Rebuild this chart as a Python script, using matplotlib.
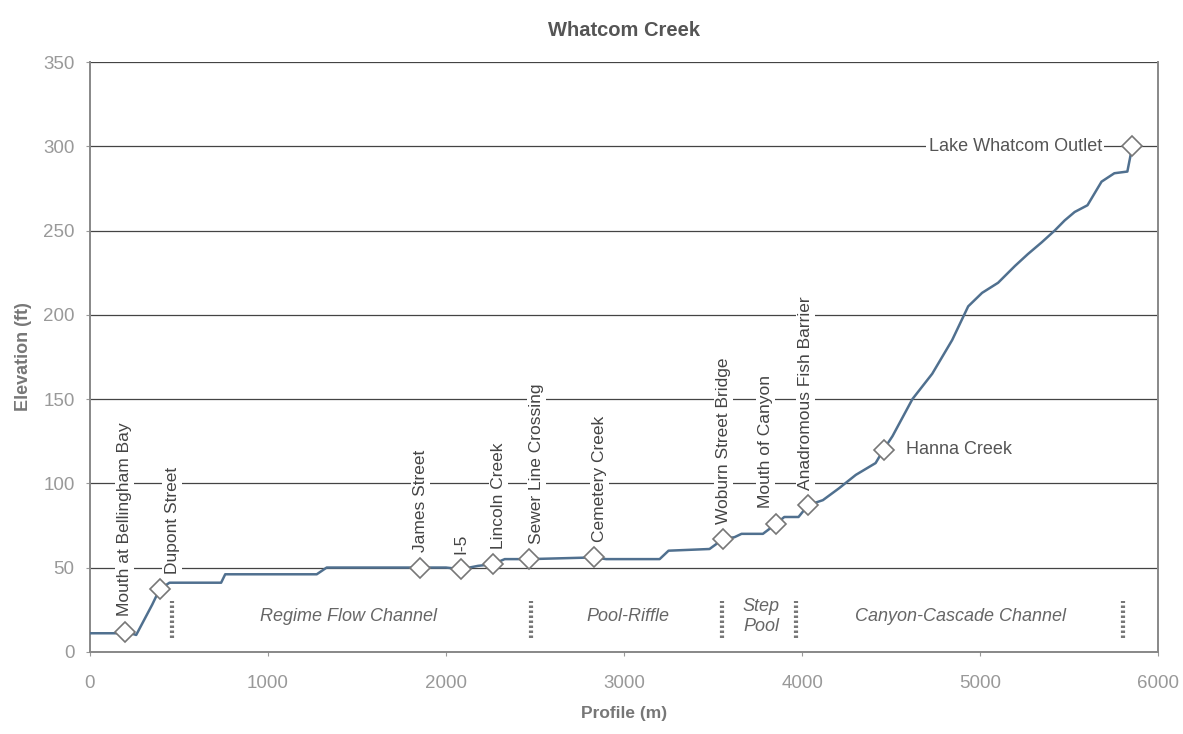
import matplotlib.pyplot as plt

plt.rcParams['font.family'] = ['Liberation Sans', 'DejaVu Sans']

# channel profile: distance (m), elevation (ft)
profile_m = [0, 150, 196, 260, 300, 350, 391, 447, 737, 760, 1274, 1330,
             1855, 2000, 2084, 2180, 2263, 2330, 2469, 2830, 2900, 3200,
             3250, 3480, 3558, 3620, 3660, 3780, 3855, 3900, 3980, 4034,
             4117, 4207, 4302, 4413, 4458, 4508, 4620, 4731, 4843, 4933,
             5011, 5101, 5196, 5268, 5346, 5419, 5475, 5531, 5603, 5682,
             5754, 5827, 5855]
elev_ft = [11, 11, 12, 10, 18, 28, 37, 41, 41, 46, 46, 50,
           50, 50, 49, 51, 52, 55, 55, 56, 55, 55,
           60, 61, 67, 68, 70, 70, 76, 80, 80, 87,
           90, 97, 105, 112, 120, 128, 150, 165, 185, 205,
           213, 219, 229, 236, 243, 250, 256, 261, 265, 279,
           284, 285, 300]

# named landmarks along the creek
site_names = ['Mouth at Bellingham Bay', 'Dupont Street', 'James Street', 'I-5',
              'Lincoln Creek', 'Sewer Line Crossing', 'Cemetery Creek',
              'Woburn Street Bridge', 'Mouth of Canyon', 'Anadromous Fish Barrier',
              'Hanna Creek', 'Lake Whatcom Outlet']
site_m = [196, 391, 1855, 2084, 2263, 2469, 2830, 3558, 3855, 4034, 4458, 5855]
site_ft = [12, 37, 50, 49, 52, 55, 56, 67, 76, 87, 120, 300]

# channel reaches and the breaks between them
reach_names = ['Regime Flow Channel', 'Pool-Riffle', 'Step\nPool', 'Canyon-Cascade Channel']
reach_mid_m = [1450, 3020, 3770, 4890]
reach_breaks_m = [460, 2475, 3550, 3965, 5800]

fig = plt.figure(figsize=(11.83, 7.34), dpi=100)
ax = fig.add_axes([0.076, 0.112, 0.903, 0.8035])

ax.plot(profile_m, elev_ft, color='#50708f', lw=1.8, zorder=3)
ax.plot(site_m, site_ft, ls='none', marker='D', ms=10, mfc='white',
        mec='#777777', mew=1.2, zorder=4)

box = dict(facecolor='white', edgecolor='none', pad=1.5)
label_dx = [0, 9, 0, 0, 4, 5, 4, 0, -8, -2]
for name, x, y, dx in zip(site_names[:10], site_m[:10], site_ft[:10], label_dx):
    ax.annotate(name, (x, y), xytext=(dx, 11), textcoords='offset points',
                rotation=90, ha='center', va='bottom', fontsize=12.5,
                color='#444444', bbox=box, zorder=2)
ax.annotate(site_names[10], (site_m[10], site_ft[10]), xytext=(16, 0),
            textcoords='offset points', ha='left', va='center', fontsize=13,
            color='#555555', bbox=box, zorder=2)
ax.annotate(site_names[11], (site_m[11], site_ft[11]), xytext=(-22, 0),
            textcoords='offset points', ha='right', va='center', fontsize=13,
            color='#555555', bbox=box, zorder=2)

for x in reach_breaks_m:
    ax.plot([x, x], [8, 30], color='#777777', lw=3, ls=(0, (0.6, 0.6)), zorder=2)
for name, x in zip(reach_names, reach_mid_m):
    ax.text(x, 21, name, ha='center', va='center', fontsize=13,
            style='italic', color='#666666', linespacing=1.25)

ax.set_xlim(0, 6000)
ax.set_ylim(0, 350)
ax.set_xticks(range(0, 6001, 1000))
ax.set_yticks(range(0, 351, 50))
ax.yaxis.grid(True, color='#444444', lw=0.9)
ax.set_axisbelow(True)
ax.tick_params(colors='#999999', labelsize=13.5, length=3)
ax.tick_params(axis='x', pad=14)
ax.tick_params(axis='y', pad=8)
for side in ['left', 'right', 'bottom']:
    ax.spines[side].set_color('#888888')
    ax.spines[side].set_linewidth(1.4)
ax.spines['top'].set_visible(False)

ax.set_xlabel('Profile (m)', fontsize=12.5, fontweight='bold', color='#777777', labelpad=10)
ax.set_ylabel('Elevation (ft)', fontsize=13, fontweight='bold', color='#777777', labelpad=8)
ax.set_title('Whatcom Creek', fontsize=14.5, fontweight='bold', color='#555555', pad=19)

fig.savefig('out.png', dpi=100)
